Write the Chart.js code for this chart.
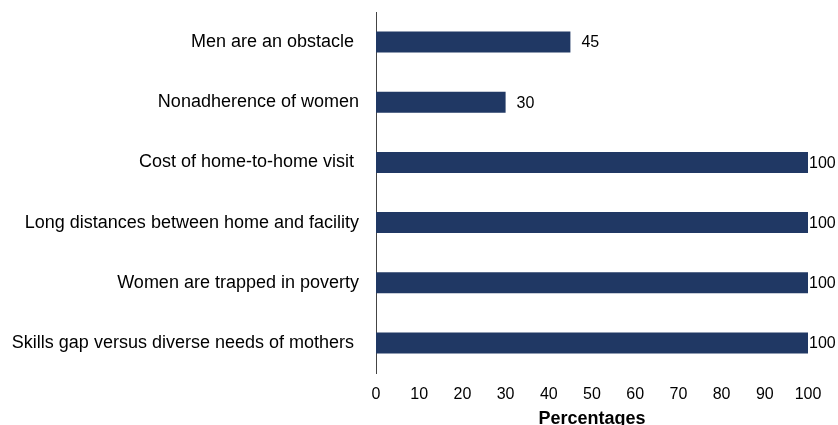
<!DOCTYPE html>
<html>
<head>
<meta charset="utf-8">
<script src="https://cdn.jsdelivr.net/npm/chart.js@4"></script>
<style>
  html, body { margin: 0; padding: 0; background: #fff; overflow: hidden; }
  #wrap { width: 838px; height: 432px; position: relative; }
</style>
</head>
<body>
<div id="wrap"><canvas id="barChart"></canvas></div>
<script>
const categories = [
    'Men are an obstacle ',
    'Nonadherence of women',
    'Cost of home-to-home visit ',
    'Long distances between home and facility',
    'Women are trapped in poverty',
    'Skills gap versus diverse needs of mothers '
];
const percentages = [45, 30, 100, 100, 100, 100];
const xTicks = [0, 10, 20, 30, 40, 50, 60, 70, 80, 90, 100];

const FONT = "'Liberation Sans', Arial, sans-serif";

// value labels to the right of each bar, kept inside the canvas
const valueLabels = {
    id: 'valueLabels',
    afterDatasetsDraw(chart) {
        const ctx = chart.ctx;
        const meta = chart.getDatasetMeta(0);
        ctx.save();
        ctx.font = '16px ' + FONT;
        ctx.fillStyle = '#000';
        ctx.textBaseline = 'middle';
        ctx.textAlign = 'left';
        meta.data.forEach((bar, i) => {
            const txt = String(percentages[i]);
            const w = ctx.measureText(txt).width;
            let x = bar.x + 11;
            if (x + w > chart.width - 1) x = bar.x + 1;
            ctx.fillText(txt, x, bar.y + 1);
        });
        ctx.restore();
    }
};

new Chart(document.getElementById('barChart'), {
    type: 'bar',
    data: {
        labels: categories,
        datasets: [{
            data: percentages,
            backgroundColor: '#203864',
            borderColor: '#203864',
            borderWidth: 0,
            barPercentage: 0.7,
            categoryPercentage: 0.5
        }]
    },
    options: {
        indexAxis: 'y',
        responsive: true,
        maintainAspectRatio: false,
        animation: false,
        layout: { padding: { top: 12, right: 30, left: 0, bottom: 0 } },
        scales: {
            x: {
                min: 0,
                max: 100,
                afterBuildTicks: (axis) => { axis.ticks = xTicks.map(v => ({ value: v })); },
                afterFit: (axis) => { axis.height = 59; },
                grid: { display: false },
                border: { display: false },
                ticks: { color: '#000', font: { size: 16, family: FONT }, padding: 4, maxRotation: 0 },
                title: {
                    display: true,
                    text: 'Percentages',
                    color: '#000',
                    font: { size: 18, weight: 'bold', family: FONT },
                    padding: { top: 2, bottom: 2 }
                }
            },
            y: {
                afterFit: (axis) => {
                    axis.width = 376;
                    axis.paddingTop = 0;
                    axis.paddingBottom = 0;
                },
                grid: { display: false },
                border: { display: true, color: '#444', width: 1 },
                ticks: { color: '#000', font: { size: 18, family: FONT }, padding: 9 }
            }
        },
        plugins: {
            legend: { display: false },
            tooltip: { enabled: false }
        }
    },
    plugins: [valueLabels]
});
</script>
</body>
</html>
